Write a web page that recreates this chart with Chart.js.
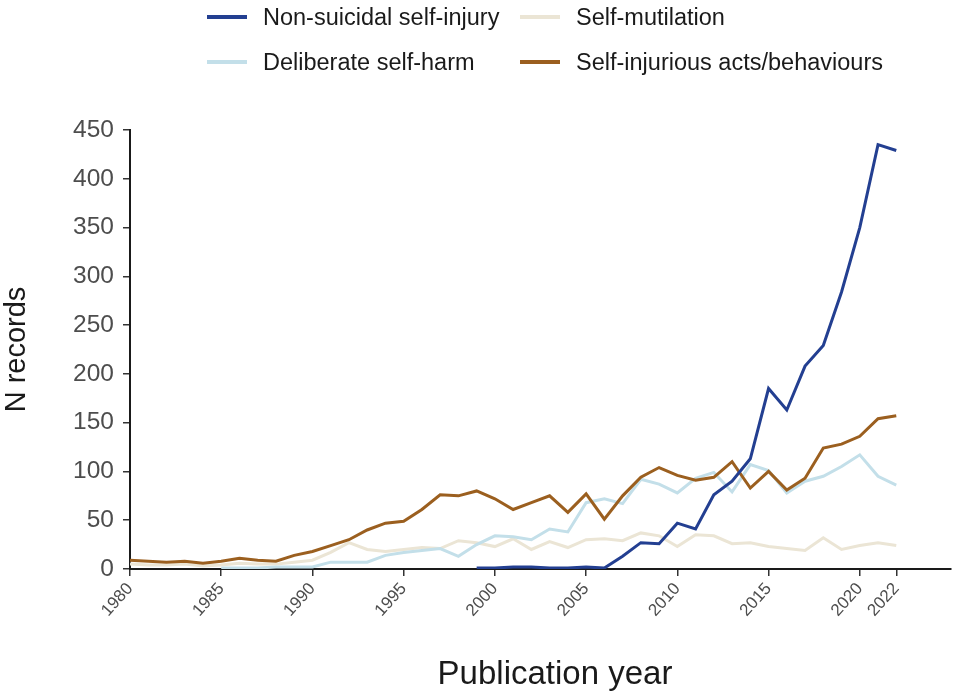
<!DOCTYPE html>
<html>
<head>
<meta charset="utf-8">
<title>Publication years of self-injury terms</title>
<script src="https://cdn.jsdelivr.net/npm/chart.js@4.4.0/dist/chart.umd.min.js"></script>
<style>
  body { margin: 0; background: #fff; }
  #wrap { position: relative; width: 955px; height: 691px; }
  #legend { position: absolute; left: 0; top: 0; width: 955px; height: 90px;
            font-family: "Liberation Sans", Arial, sans-serif; font-size: 23.5px; color: #1a1a1a; }
  .item { position: absolute; display: flex; align-items: center; height: 30px; white-space: nowrap; }
  .swatch { width: 40px; height: 3.5px; margin-right: 16px; }
</style>
</head>
<body>
<div id="wrap">
  <canvas id="chart" width="955" height="691"></canvas>
  <div id="legend"></div>
</div>
<script>
const FONT = '"Liberation Sans", Arial, sans-serif';

// === Datos ===
const years = [1980, 1981, 1982, 1983, 1984, 1985, 1986, 1987, 1988, 1989,
               1990, 1991, 1992, 1993, 1994, 1995, 1996, 1997, 1998, 1999,
               2000, 2001, 2002, 2003, 2004, 2005, 2006, 2007, 2008, 2009,
               2010, 2011, 2012, 2013, 2014, 2015, 2016, 2017, 2018, 2019,
               2020, 2021, 2022];

const nonSuicidal = [null, null, null, null, null, null, null, null, null, null,
                     null, null, null, null, null, null, null, null, null, 1,
                     1, 2, 2, 1, 1, 2, 1, 13, 27, 26,
                     47, 41, 76, 90, 113, 185, 163, 208, 229, 284,
                     350, 435, 429];

const deliberate = [null, null, null, null, null, 1, 1, 1, 2, 2,
                    2, 7, 7, 7, 14, 17, 19, 21, 13, 25,
                    34, 33, 30, 41, 38, 68, 72, 67, 92, 87,
                    78, 93, 99, 79, 107, 101, 78, 90, 95, 105,
                    117, 95, 86];

const mutilation = [5, 4, 4, 5, 3, 4, 6, 5, 5, 7,
                    9, 17, 27, 20, 18, 20, 22, 21, 29, 27,
                    23, 31, 20, 28, 22, 30, 31, 29, 37, 34,
                    23, 35, 34, 26, 27, 23, 21, 19, 32, 20,
                    24, 27, 24];

const injuriousActs = [9, 8, 7, 8, 6, 8, 11, 9, 8, 14,
                       18, 24, 30, 40, 47, 49, 61, 76, 75, 80,
                       72, 61, 68, 75, 58, 77, 51, 75, 94, 104,
                       96, 91, 94, 110, 83, 100, 81, 93, 124, 128,
                       136, 154, 157];

const xTicks = [1980, 1985, 1990, 1995, 2000, 2005, 2010, 2015, 2020, 2022];
const yTicks = [0, 50, 100, 150, 200, 250, 300, 350, 400, 450];

const series = [
    { label: 'Non-suicidal self-injury', data: nonSuicidal, color: '#233f91', order: 1 },
    { label: 'Deliberate self-harm', data: deliberate, color: '#c3dfe9', order: 3 },
    { label: 'Self-mutilation', data: mutilation, color: '#ebe5d5', order: 4 },
    { label: 'Self-injurious acts/behaviours', data: injuriousActs, color: '#9b5f1f', order: 2 }
];

// Título del eje X, centrado un poco a la derecha del área
const xTitlePlugin = {
    id: 'xTitle',
    afterDraw(c) {
        const ctx = c.ctx;
        ctx.save();
        ctx.font = `33px ${FONT}`;
        ctx.fillStyle = '#1a1a1a';
        ctx.textAlign = 'center';
        ctx.textBaseline = 'middle';
        ctx.fillText('Publication year', 555, 675);
        ctx.restore();
    }
};

const chart = new Chart(document.getElementById('chart'), {
    type: 'line',
    data: {
        datasets: series.map(s => ({
            label: s.label,
            data: years.map((y, i) => ({ x: y, y: s.data[i] })),
            borderColor: s.color,
            backgroundColor: s.color,
            borderWidth: 3,
            pointRadius: 0,
            tension: 0,
            order: s.order
        }))
    },
    plugins: [xTitlePlugin],
    options: {
        responsive: false,
        animation: false,
        devicePixelRatio: 1,
        layout: { padding: { top: 130, right: 4, left: 0, bottom: 0 } },
        plugins: {
            legend: { display: false },
            tooltip: { enabled: false }
        },
        scales: {
            x: {
                type: 'linear',
                min: 1980,
                max: 2025,
                afterBuildTicks: s => { s.ticks = xTicks.map(v => ({ value: v })); },
                afterFit: s => { s.height = 122; },
                ticks: {
                    autoSkip: false,
                    minRotation: 48,
                    maxRotation: 48,
                    color: '#4d4d4d',
                    padding: 3,
                    font: { family: FONT, size: 17 },
                    callback: v => String(v)
                },
                grid: { drawOnChartArea: false, tickLength: 7, color: '#333', lineWidth: 1.5 },
                border: { color: '#1a1a1a', width: 2 },
                title: { display: false }
            },
            y: {
                min: 0,
                max: 450,
                afterBuildTicks: s => { s.ticks = yTicks.map(v => ({ value: v })); },
                afterFit: s => { s.width = 130; },
                ticks: {
                    color: '#4d4d4d',
                    padding: 9,
                    font: { family: FONT, size: 24.5 }
                },
                grid: { drawOnChartArea: false, tickLength: 7, color: '#333', lineWidth: 1.5 },
                border: { color: '#1a1a1a', width: 2 },
                title: {
                    display: true,
                    text: 'N records',
                    color: '#1a1a1a',
                    font: { family: FONT, size: 29 },
                    padding: { top: 0, bottom: 0 }
                }
            }
        }
    }
});

// === Leyenda en dos columnas ===
const legend = document.getElementById('legend');
const slots = [
    { left: 207, top: 2 },   // Non-suicidal
    { left: 207, top: 47 },  // Deliberate
    { left: 520, top: 2 },   // Self-mutilation
    { left: 520, top: 47 }   // Self-injurious
];
series.forEach((s, i) => {
    const item = document.createElement('div');
    item.className = 'item';
    item.style.left = slots[i].left + 'px';
    item.style.top = slots[i].top + 'px';
    item.innerHTML = `<span class="swatch" style="background:${s.color}"></span><span>${s.label}</span>`;
    legend.appendChild(item);
});
</script>
</body>
</html>
